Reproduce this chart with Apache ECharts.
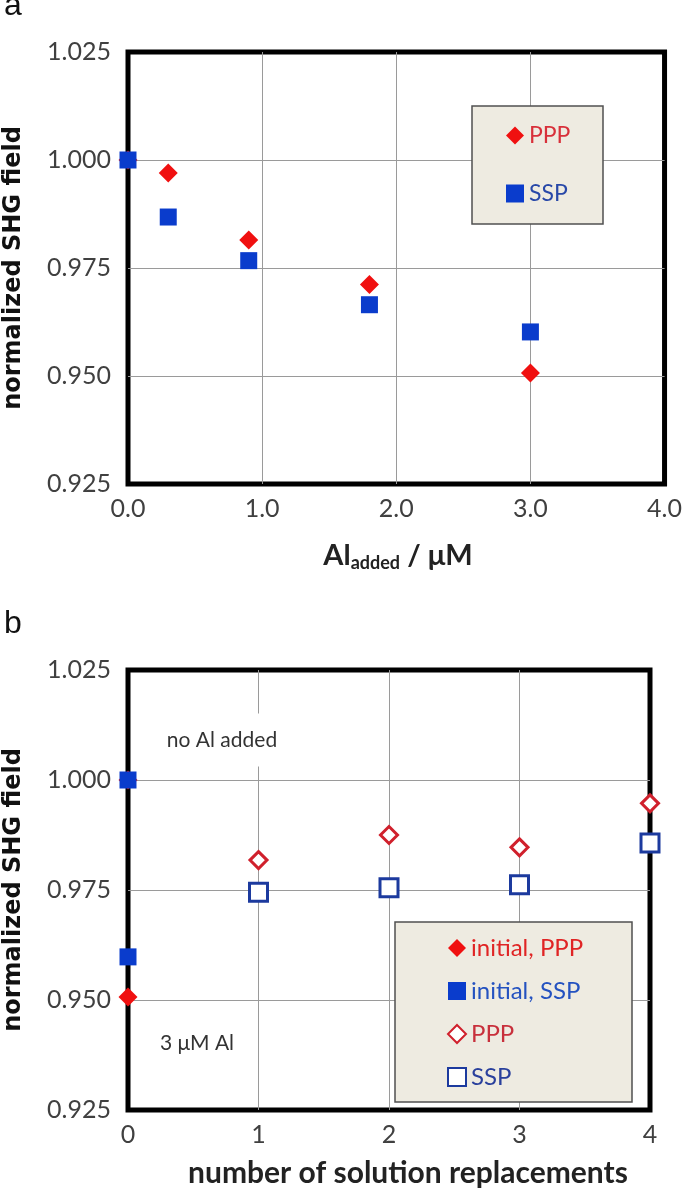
<!DOCTYPE html>
<html><head><meta charset="utf-8">
<script src="https://cdn.jsdelivr.net/npm/echarts@6/dist/echarts.min.js"></script>
<style>html,body{margin:0;padding:0;background:#fff;}#c{width:685px;height:1191px;}</style>
</head><body><div id="c"></div>
<script>
// ---- data ----
const xTicksA = ['0.0', '1.0', '2.0', '3.0', '4.0'];
const xTicksB = ['0', '1', '2', '3', '4'];
const yTicks = ['0.925', '0.950', '0.975', '1.000', '1.025'];
const alAdded = [0, 0.3, 0.9, 1.8, 3.0];
const pppA = [1.000, 0.997, 0.9815, 0.9712, 0.9507];
const sspA = [1.000, 0.9868, 0.9767, 0.9665, 0.9602];
const replacements = [1, 2, 3, 4];
const pppB = [0.9818, 0.9875, 0.9847, 0.9947];
const sspB = [0.9745, 0.9755, 0.9762, 0.9857];
const initialX = [0, 0];
const initialPPP = [1.000, 0.9507];
const initialSSP = [1.000, 0.9598];

const RED = '#f01010', BLUE = '#0a3ccc', RED_H = '#d0202c', BLUE_H = '#1c3a9e';
const FONT = 'Lato';
const pairs = (xs, ys) => xs.map((x, i) => [x, ys[i]]);

const chart = echarts.init(document.getElementById('c'), null, {renderer: 'canvas'});
const split = {show: true, showMinLine: false, showMaxLine: false, lineStyle: {color: '#9a9a9a', width: 1}};
const axisY = (gi) => ({
  type: 'value', gridIndex: gi, min: 0.925, max: 1.025, interval: 0.025,
  axisLine: {show: false}, axisTick: {show: false},
  splitLine: split,
  axisLabel: {color: '#404040', fontSize: 25, fontFamily: FONT, margin: 17,
    showMinLabel: true, showMaxLabel: true,
    formatter: (v) => yTicks[Math.round((v - 0.925) / 0.025)]}
});
const axisX = (gi, ticks, margin) => ({
  type: 'value', gridIndex: gi, min: 0, max: 4, interval: 1,
  axisLine: {show: false}, axisTick: {show: false},
  splitLine: split,
  axisLabel: {color: '#404040', fontSize: 25, fontFamily: FONT, margin: margin,
    showMinLabel: true, showMaxLabel: true,
    formatter: (v) => ticks[Math.round(v)]}
});

const option = {
  animation: false,
  backgroundColor: '#fff',
  grid: [
    {left: 128, top: 52, width: 539, height: 432, show: true, borderColor: '#000', borderWidth: 5, backgroundColor: 'transparent'},
    {left: 128, top: 670, width: 522, height: 440, show: true, borderColor: '#000', borderWidth: 5, backgroundColor: 'transparent'}
  ],
  xAxis: [axisX(0, xTicksA, 12), axisX(1, xTicksB, 12)],
  yAxis: [axisY(0), axisY(1)],
  legend: [
    {orient: 'vertical', left: 506, top: 124, itemWidth: 18, itemHeight: 18, itemGap: 35, z: 10,
     textStyle: {fontSize: 23, fontFamily: FONT}, padding: 0,
     data: [{name: 'PPP', icon: 'diamond', textStyle: {color: '#d8303a'}},
            {name: 'SSP', icon: 'rect', textStyle: {color: '#2848a8'}}]},
    {orient: 'vertical', left: 447, top: 936, itemWidth: 18, itemHeight: 18, itemGap: 19, z: 10,
     textStyle: {fontSize: 24, fontFamily: FONT}, padding: 0,
     formatter: (n) => n.replace(' (rep)', ''),
     data: [{name: 'initial, PPP', icon: 'diamond', textStyle: {color: '#e02424'}},
            {name: 'initial, SSP', icon: 'rect', textStyle: {color: '#2452c0'}},
            {name: 'PPP (rep)', icon: 'diamond', textStyle: {color: '#c8303c'}},
            {name: 'SSP (rep)', icon: 'rect', textStyle: {color: '#2a409c'}}]}
  ],
  graphic: [
    {type: 'rect', z: 5, shape: {x: 472, y: 106, width: 131, height: 118},
     style: {fill: '#eeebe1', stroke: '#505050', lineWidth: 1.5}},
    {type: 'rect', z: 5, shape: {x: 395, y: 922, width: 237, height: 180},
     style: {fill: '#eeebe1', stroke: '#505050', lineWidth: 1.5}},
    {type: 'text', z: 6, x: 4, y: 22, style: {text: 'a', font: '32px "Liberation Sans"', fill: '#111', textVerticalAlign: 'bottom'}},
    {type: 'text', z: 6, x: 4, y: 640, style: {text: 'b', font: '32px "Liberation Sans"', fill: '#111', textVerticalAlign: 'bottom'}},
    {type: 'text', z: 6, x: 14, y: 268, rotation: Math.PI / 2,
     style: {text: 'normalized SHG field', font: 'bold 24px "DejaVu Sans"', fill: '#111', textAlign: 'center', textVerticalAlign: 'middle'}},
    {type: 'text', z: 6, x: 14, y: 890, rotation: Math.PI / 2,
     style: {text: 'normalized SHG field', font: 'bold 24px "DejaVu Sans"', fill: '#111', textAlign: 'center', textVerticalAlign: 'middle'}},
    {type: 'text', z: 6, x: 398, y: 556,
     style: {text: '{m|Al}{s|added}{m| / μM}', textAlign: 'center', textVerticalAlign: 'middle',
       rich: {m: {font: 'bold 29px Lato', fill: '#222'}, s: {font: 'bold 18px Lato', fill: '#222', padding: [14, 0, 0, 0]}}}},
    {type: 'text', z: 6, x: 408, y: 1173,
     style: {text: 'number of solution replacements', font: 'bold 30px Lato', fill: '#222', textAlign: 'center', textVerticalAlign: 'middle'}},
    {type: 'text', z: 6, x: 222, y: 740,
     style: {text: 'no Al added', font: '21px Lato', fill: '#333', textAlign: 'center', textVerticalAlign: 'middle',
       backgroundColor: '#fff', padding: [16, 6]}},
    {type: 'text', z: 6, x: 197, y: 1043,
     style: {text: '3 μM Al', font: '21px Lato', fill: '#333', textAlign: 'center', textVerticalAlign: 'middle'}}
  ],
  series: [
    {name: 'PPP', type: 'scatter', xAxisIndex: 0, yAxisIndex: 0, clip: false, symbol: 'diamond', symbolSize: [19, 19],
     itemStyle: {color: RED, opacity: 1}, data: pairs(alAdded, pppA), z: 3},
    {name: 'SSP', type: 'scatter', xAxisIndex: 0, yAxisIndex: 0, clip: false, symbol: 'rect', symbolSize: [17, 17],
     itemStyle: {color: BLUE, opacity: 1}, data: pairs(alAdded, sspA), z: 4},
    {name: 'initial, PPP', type: 'scatter', xAxisIndex: 1, yAxisIndex: 1, clip: false, symbol: 'diamond', symbolSize: [19, 19],
     itemStyle: {color: RED, opacity: 1}, data: pairs(initialX, initialPPP), z: 3},
    {name: 'initial, SSP', type: 'scatter', xAxisIndex: 1, yAxisIndex: 1, clip: false, symbol: 'rect', symbolSize: [17, 17],
     itemStyle: {color: BLUE, opacity: 1}, data: pairs(initialX, initialSSP), z: 4},
    {name: 'PPP (rep)', type: 'scatter', xAxisIndex: 1, yAxisIndex: 1, clip: false, symbol: 'diamond', symbolSize: [17, 17],
     itemStyle: {color: '#fff', borderColor: RED_H, borderWidth: 3, opacity: 1}, data: pairs(replacements, pppB), z: 3},
    {name: 'SSP (rep)', type: 'scatter', xAxisIndex: 1, yAxisIndex: 1, clip: false, symbol: 'rect', symbolSize: [18, 18],
     itemStyle: {color: '#fff', borderColor: BLUE_H, borderWidth: 3, opacity: 1}, data: pairs(replacements, sspB), z: 4}
  ]
};
chart.setOption(option);
</script>
</body></html>
